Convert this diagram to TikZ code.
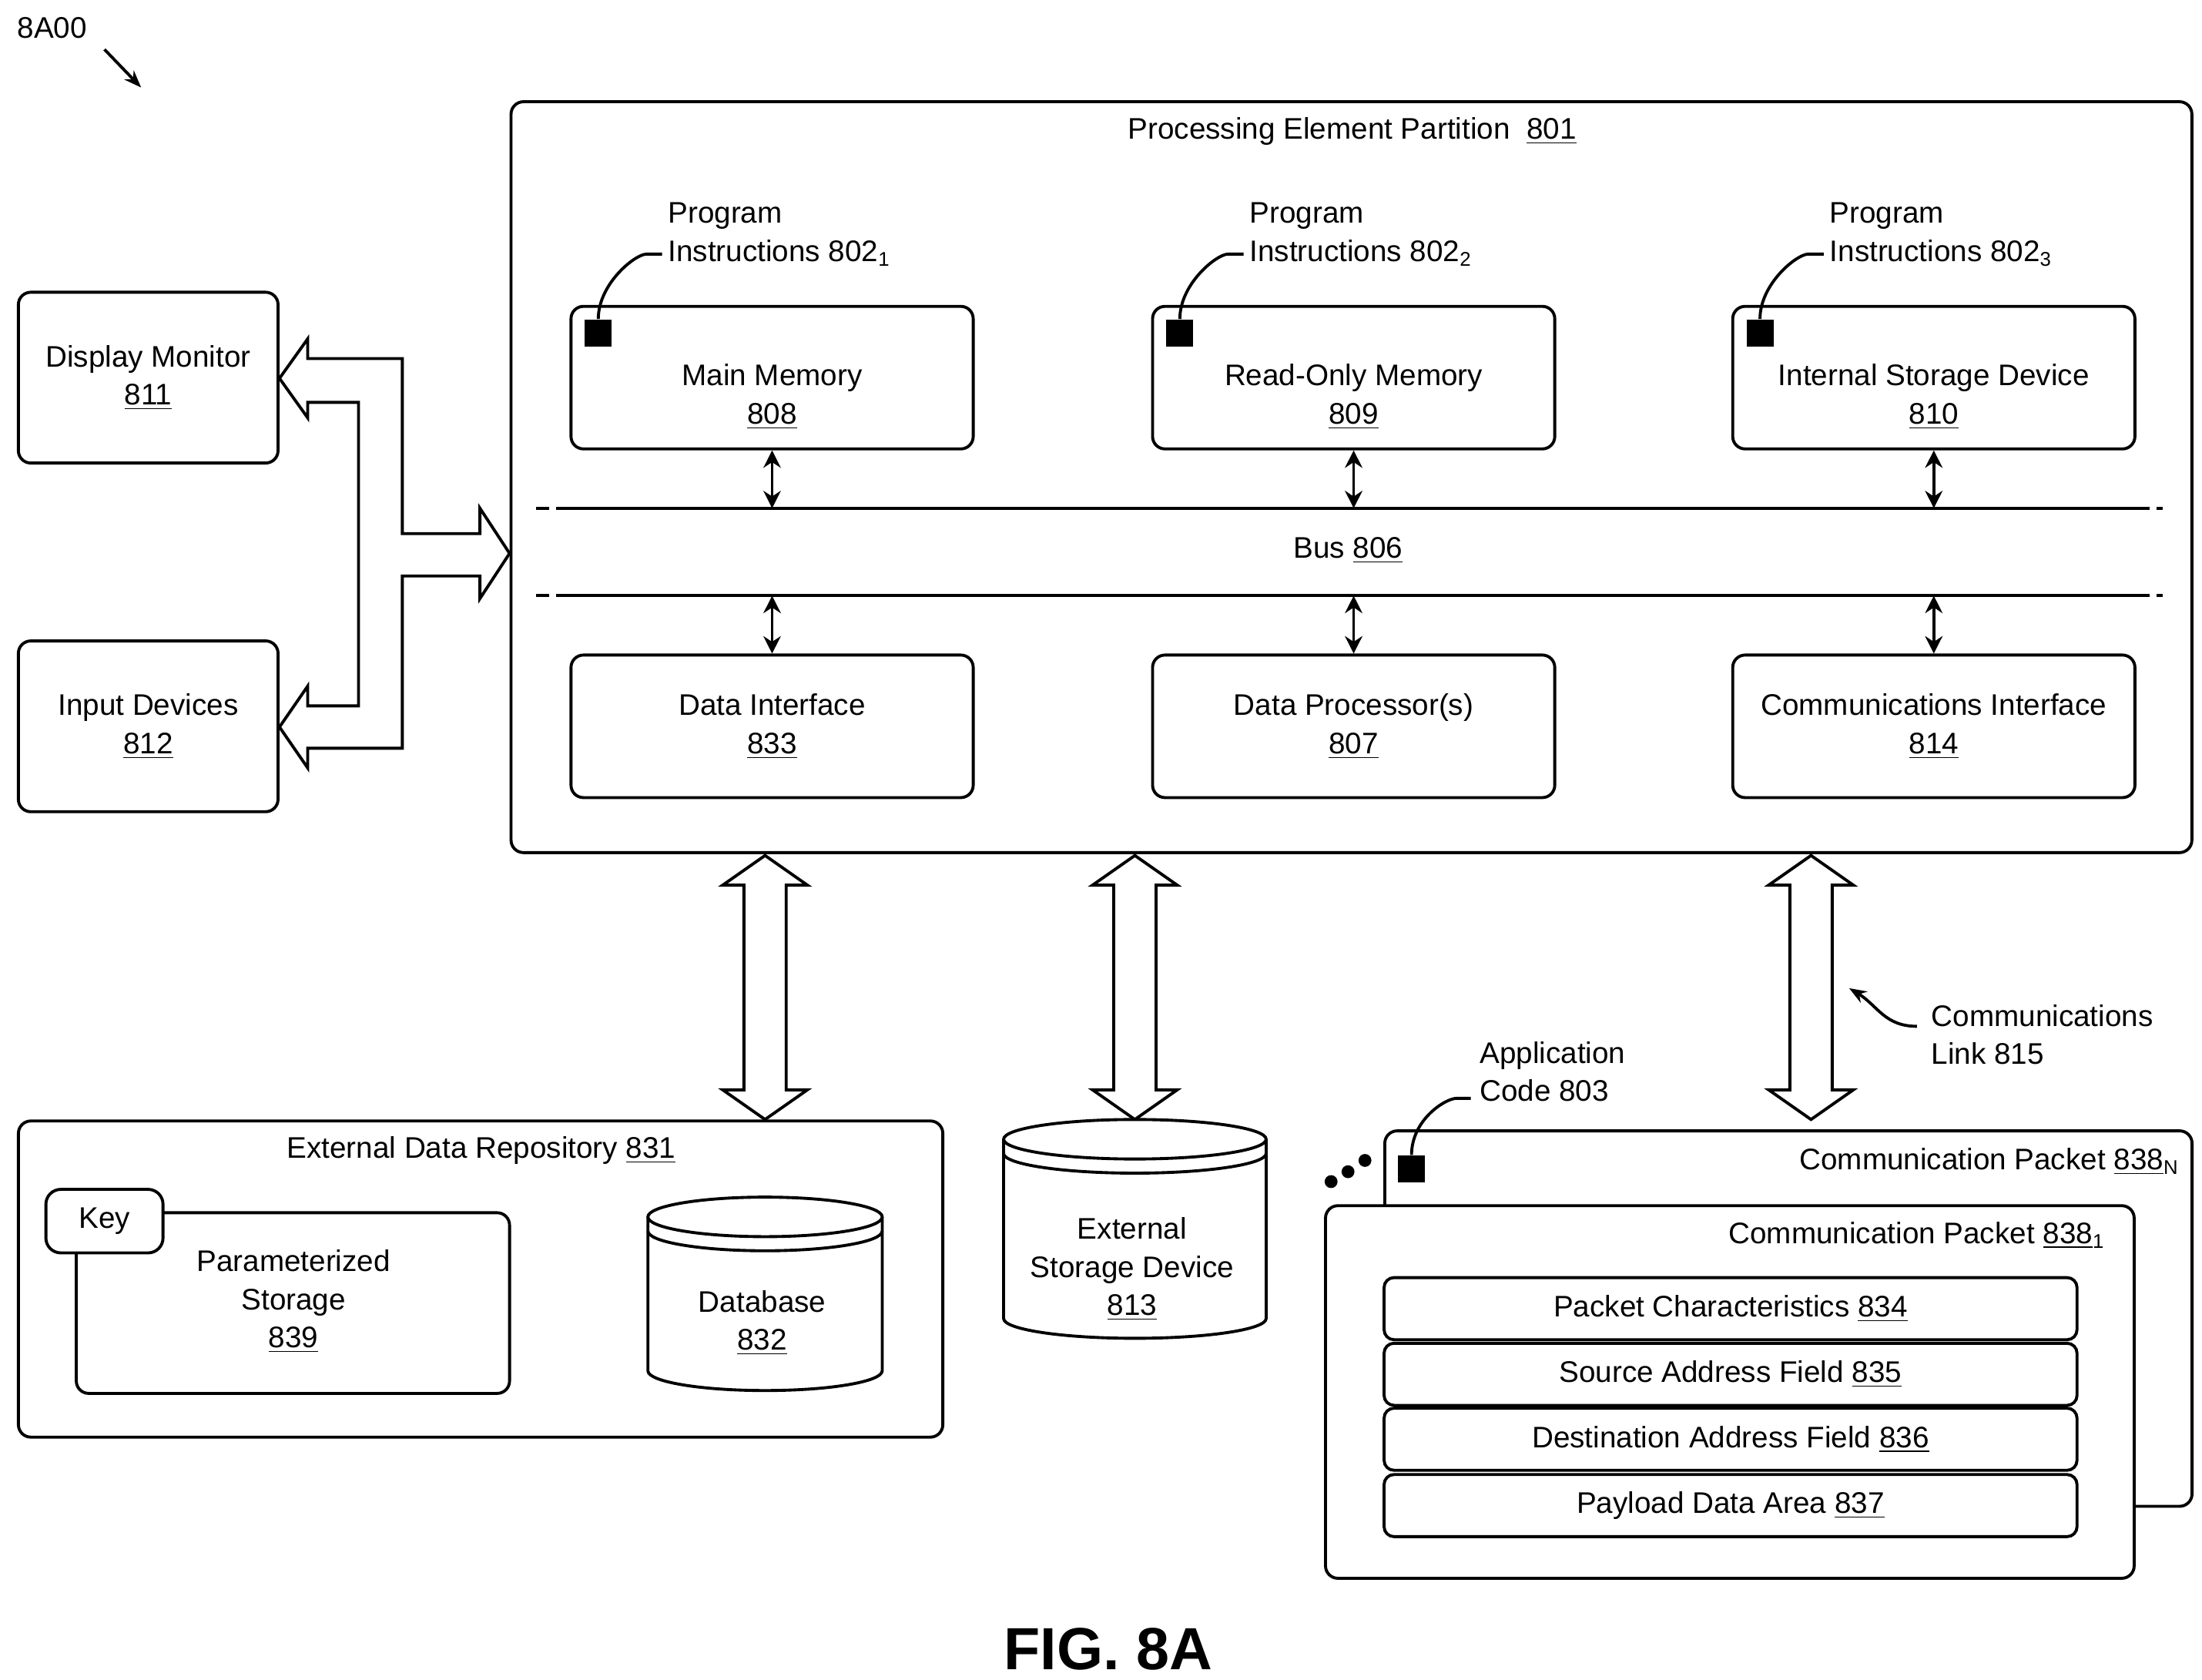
\documentclass[tikz,border=0pt]{standalone}
\usepackage{fontspec}
\setmainfont{Liberation Sans}
\usetikzlibrary{arrows.meta}
\newcommand{\ul}[1]{\underline{#1}}
\begin{document}
\begin{tikzpicture}[x=0.02cm,y=-0.02cm,font=\fontsize{12}{15.4}\selectfont]
	\tikzstyle{box}=[draw,line width=1.2pt,rounded corners=5pt,fill=white]
	\tikzstyle{blk}=[box,minimum width=5.7cm,minimum height=2.02cm,align=center]
	\tikzstyle{field}=[box,rounded corners=4pt,minimum width=9.82cm,minimum height=0.88cm]
	\tikzstyle{lbl}=[align=left,anchor=west,inner sep=0pt]
	\tikzstyle{dbl}=[line width=1.2pt,{Stealth[length=7pt,width=7pt]}-{Stealth[length=7pt,width=7pt]}]
	\tikzstyle{fat}=[draw,line width=1.2pt,fill=white,line join=miter]
	\useasboundingbox (0,0) rectangle (1560,1190);
	% figure number
	\node[lbl] (fignum) at (12,20) {8A00};
	\coordinate (fa) at (100,62);
	\draw[line width=1.2pt,-{Stealth[length=7pt]}] (74,35) -- (fa);
	% processing element partition
	\node[box,minimum width=23.82cm,minimum height=10.64cm,anchor=north west] (pep) at (361,71) {};
	\node (peptitle) at (958,93) {Processing Element Partition \ \ul{801}};
	\node[blk] (mm) at (547,267.5) {};
	\node[blk] (rom) at (959,267.5) {};
	\node[blk] (isd) at (1370,267.5) {};
	\node[align=center] (mmtext) at (547,281) {Main Memory\\\ul{808}};
	\node[align=center] (romtext) at (959,281) {Read-Only Memory\\\ul{809}};
	\node[align=center] (isdtext) at (1370,281) {Internal Storage Device\\\ul{810}};
	\node[blk] (di) at (547,514.5) {Data Interface\\\ul{833}};
	\node[blk] (dp) at (959,514.5) {Data Processor(s)\\\ul{807}};
	\node[blk] (ci) at (1370,514.5) {Communications Interface\\\ul{814}};
	% program instruction markers
	\foreach \x/\n in {403/1,815/2,1226/3}{
		\node[fill=black,minimum size=0.38cm,inner sep=0pt,anchor=north west] (sq\n) at (\x+11,226) {};
		\node[lbl] (pi\n) at (\x+70,166) {Program\\Instructions 802\textsubscript{\n}};
		\draw[line width=1.2pt] (sq\n.north) .. controls +(0,-25) and +(-8,0) .. (\x+55,180) -- (\x+66,180);
	}
	% bus
	\coordinate (b1l) at (380,360); \coordinate (b1r) at (1532,360);
	\coordinate (b2l) at (380,422); \coordinate (b2r) at (1532,422);
	\foreach \y in {360,422}{
		\draw[line width=1.2pt] (398,\y) -- (1514,\y);
		\draw[line width=1.2pt,dash pattern=on 5pt off 3pt] (380,\y) -- (398,\y) (1514,\y) -- (1532,\y);
	}
	\node (bus) at (955,390) {Bus \ul{806}};
	\foreach \b in {mm,rom,isd}{ \draw[dbl] (\b.south) -- (\b.south |- b1l); }
	\foreach \b in {di,dp,ci}{ \draw[dbl] (\b.north) -- (\b.north |- b2l); }
	% display and input
	\node[box,minimum width=3.68cm,minimum height=2.42cm,align=center] (dm) at (105,267.5) {Display Monitor\\\ul{811}};
	\node[box,minimum width=3.68cm,minimum height=2.42cm,align=center] (inp) at (105,514.5) {Input Devices\\\ul{812}};
	\draw[fat] (361,392) -- (340,360) -- (340,378) -- (285,378) -- (285,254) -- (218,254) -- (218,240) -- (198,268)
		-- (218,296) -- (218,285) -- (254,285) -- (254,500) -- (218,500) -- (218,486) -- (198,515) -- (218,544)
		-- (218,530) -- (285,530) -- (285,408) -- (340,408) -- (340,424) -- cycle;
	% vertical links
	\foreach \x in {542,804,1283}{
		\draw[fat] (\x,606) -- (\x+30,627) -- (\x+15,627) -- (\x+15,772) -- (\x+30,772) -- (\x,793)
			-- (\x-30,772) -- (\x-15,772) -- (\x-15,627) -- (\x-30,627) -- cycle;
	}
	\node[lbl] (cl) at (1368,733) {Communications\\Link 815};
	\draw[line width=1.2pt,-{Stealth[length=7pt]}] (1358,727) .. controls (1335,727) and (1330,712) .. (1310,700);
	% external data repository
	\node[box,minimum width=13.1cm,minimum height=4.48cm,anchor=north west] (edr) at (12,793) {};
	\node (edrtitle) at (341,815) {External Data Repository \ul{831}};
	\node[box,minimum width=6.14cm,minimum height=2.56cm,anchor=north west] (ps) at (53,858) {};
	\node[align=center] (pstext) at (208,922) {Parameterized\\Storage\\\ul{839}};
	\node[box,rounded corners=6pt,minimum width=1.66cm,minimum height=0.9cm] (key) at (74,865) {Key};
	% database
	\draw[line width=1.2pt,fill=white] (459,862) -- (459,971) arc[start angle=180,end angle=360,x radius=83,y radius=-14] -- (625,862);
	\draw[line width=1.2pt,fill=white] (542,862) ellipse[x radius=83,y radius=14];
	\draw[line width=1.2pt] (459,872) arc[start angle=180,end angle=360,x radius=83,y radius=-14];
	\node[align=center] (db) at (540,937) {Database\\\ul{832}};
	% external storage device
	\draw[line width=1.2pt,fill=white] (711,807) -- (711,934) arc[start angle=180,end angle=360,x radius=93,y radius=-14] -- (897,807);
	\draw[line width=1.2pt,fill=white] (804,807) ellipse[x radius=93,y radius=14];
	\draw[line width=1.2pt] (711,817) arc[start angle=180,end angle=360,x radius=93,y radius=-14];
	\node[align=center] (esd) at (802,899) {External\\Storage Device\\\ul{813}};
	% communication packets
	\node[box,minimum width=11.44cm,minimum height=5.32cm,anchor=north west] (cpn) at (980,800) {};
	\node[anchor=east] (cpntitle) at (1550,823) {Communication Packet \ul{838}\textsubscript{N}};
	\node[fill=black,minimum size=0.38cm,inner sep=0pt] (sqa) at (1000,828) {};
	\node[lbl] (ac) at (1048,759) {Application\\Code 803};
	\draw[line width=1.2pt] (sqa.north) .. controls +(0,-25) and +(-8,0) .. (1032,778) -- (1042,778);
	\foreach \x/\y in {943/837,955/830,967/822}{ \fill (\x,\y) circle (2.6pt); }
	\node[box,minimum width=11.46cm,minimum height=5.28cm,anchor=north west] (cp1) at (938,853) {};
	\node (cp1title) at (1358,875) {Communication Packet \ul{838}\textsubscript{1}};
	\node[field] (f1) at (1226,927) {Packet Characteristics \ul{834}};
	\node[field] (f2) at (1226,973.5) {Source Address Field \ul{835}};
	\node[field] (f3) at (1226,1019.5) {Destination Address Field \ul{836}};
	\node[field] (f4) at (1226,1066.5) {Payload Data Area \ul{837}};
	\node[font=\fontsize{24}{28}\selectfont\bfseries] (fig) at (785,1168) {FIG. 8A};
\end{tikzpicture}
\end{document}
